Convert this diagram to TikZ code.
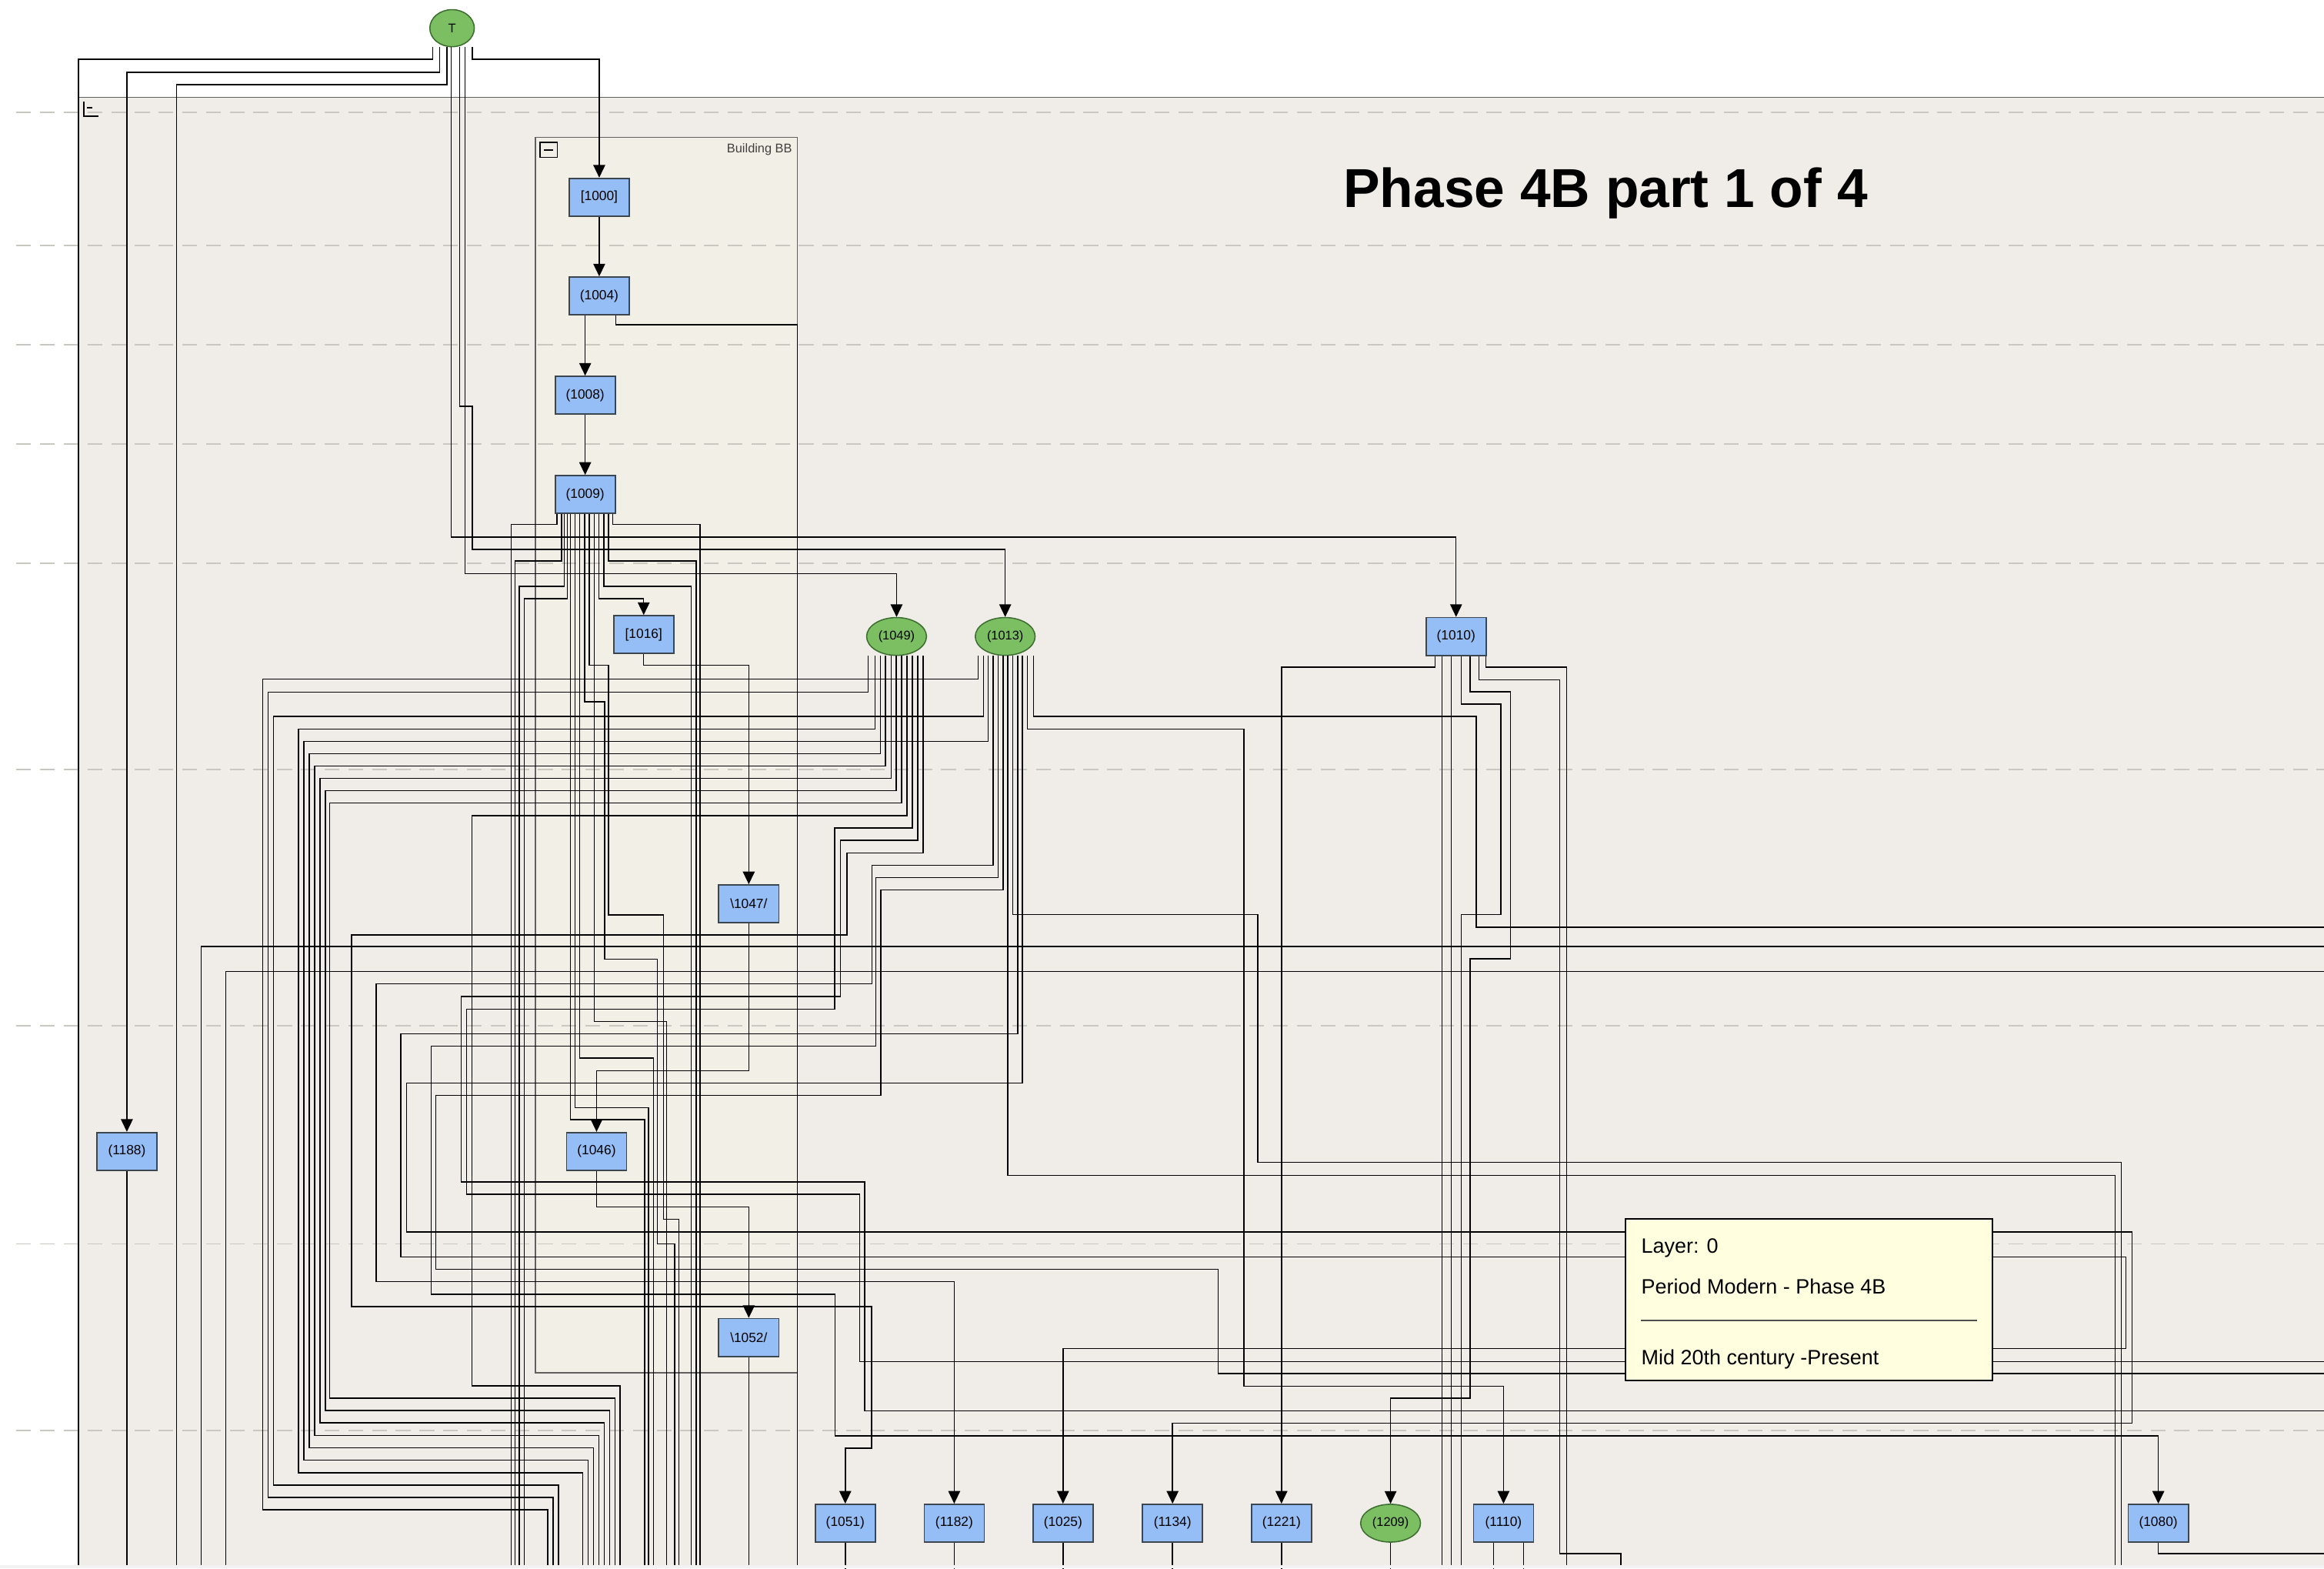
\documentclass[tikz,border=0pt]{standalone}
\usepackage{fontspec}
\setmainfont{Liberation Sans}
\usetikzlibrary{shapes.geometric,arrows.meta}
\definecolor{bgbeige}{HTML}{F0ECE7}
\definecolor{bldg}{HTML}{F2F0E6}
\definecolor{boxblue}{HTML}{95BEF6}
\definecolor{boxborder}{HTML}{3C4650}
\definecolor{nodegreen}{HTML}{7CBF63}
\definecolor{greenborder}{HTML}{3C6E30}
\definecolor{dashcol}{HTML}{C8C8C0}
\definecolor{layerfill}{HTML}{FFFFE0}
\definecolor{framegray}{HTML}{606060}
\tikzset{
  ubox/.style={draw=boxborder, fill=boxblue, minimum width=40.5pt, minimum height=25.5pt,
    inner sep=0pt, line width=0.9pt, font=\fontsize{9}{9}\selectfont},
  uell/.style={ellipse, draw=greenborder, fill=nodegreen, minimum width=40.4pt, minimum height=25.5pt,
    inner sep=0pt, line width=0.8pt, font=\fontsize{8.5}{8.5}\selectfont},
  wire/.style={line width=0.75pt, black},
  arr/.style={wire, -{Triangle[length=8.5pt,width=8pt]}},
  gridline/.style={dashcol, line width=1pt, dash pattern=on 10pt off 6pt},
  layertext/.style={anchor=base west, inner sep=0pt, font=\fontsize{14}{14}\selectfont}
}
\begin{document}
\begin{tikzpicture}[x=1pt,y=-1pt]
\useasboundingbox (0,0) rectangle (1568,1058);
\fill[white] (0,0) rectangle (1568,1058);
\fill[bgbeige] (53,66) rectangle (1568,1058);
\fill[bldg] (361.1,92.7) rectangle (538,926);
\foreach \yy in {76,165.5,232.5,299.5,380,519,692,839,964.7}
  \draw[gridline] (11,\yy) -- (1568,\yy);
\draw[framegray, line width=0.9pt] (53,65.6) -- (1568,65.6);
\draw[framegray, line width=0.9pt] (361.1,92.7) rectangle (538,926);
% corner icon
\draw[black, line width=0.9pt] (56.5,68.5) -- (56.5,78.5) -- (66.5,78.5);
\draw[black, line width=0.9pt] (58.5,72.5) -- (62.5,72.5);
% building collapse icon and label
\draw[black, line width=0.9pt] (364.5,96) rectangle (376,106.2);
\draw[black, line width=0.9pt] (367.2,101.1) -- (373.3,101.1);
\node[anchor=east, inner sep=0pt, text=black!75, font=\fontsize{8.5}{8.5}\selectfont] (lblBB) at (534.6,101) {Building BB};
% title
\node[anchor=base west, inner sep=0pt, font=\fontsize{37}{37}\selectfont\bfseries] (title) at (906.2,139.8) {Phase 4B part 1 of 4};

% nodes
\node[uell, minimum width=30pt, minimum height=25pt] (nT) at (305,19) {T};
\node[ubox] (n1000) at (404.3,133) {[1000]};
\node[ubox] (n1004) at (404.3,199.6) {(1004)};
\node[ubox] (n1008) at (394.8,266.6) {(1008)};
\node[ubox] (n1009) at (394.8,333.5) {(1009)};
\node[ubox] (n1016) at (434.3,428) {[1016]};
\node[uell] (n1049) at (604.9,429.3) {(1049)};
\node[uell] (n1013) at (678.2,429.3) {(1013)};
\node[ubox] (n1010) at (982.4,429.3) {(1010)};
\node[ubox] (n1047) at (505.2,609.6) {\textbackslash1047/};
\node[ubox] (n1188) at (85.6,776.6) {(1188)};
\node[ubox] (n1046) at (402.5,776.6) {(1046)};
\node[ubox] (n1052) at (505.2,902.1) {\textbackslash1052/};
\node[ubox] (n1051) at (570.3,1027.4) {(1051)};
\node[ubox] (n1182) at (643.8,1027.4) {(1182)};
\node[ubox] (n1025) at (717.2,1027.4) {(1025)};
\node[ubox] (n1134) at (791.1,1027.4) {(1134)};
\node[ubox] (n1221) at (864.6,1027.4) {(1221)};
\node[uell] (n1209) at (938.2,1027.4) {(1209)};
\node[ubox] (n1110) at (1014.4,1027.4) {(1110)};
\node[ubox] (n1080) at (1456.2,1027.4) {(1080)};

% ---- connectors from T
\draw[wire] ([xshift=-13pt]nT.south) |- (53,40) -- (53,1058);
\draw[arr] ([xshift=-8.3pt]nT.south) |- (85.6,48.7) -- (n1188.north);
\draw[wire] ([xshift=-3.5pt]nT.south) |- (119,57) -- (119,1058);
\draw[arr] ([xshift=-0.6pt]nT.south) |- (982.4,362.2) -- (n1010.north);
\draw[arr] ([xshift=5.2pt]nT.south) |- (318.6,274) |- (678.2,370.6) -- (n1013.north);
\draw[arr] ([xshift=8.8pt]nT.south) |- (604.9,387) -- (n1049.north);
\draw[arr] ([xshift=13.6pt]nT.south) |- (404.3,40) -- (n1000.north);

% ---- building chain
\draw[arr] (n1000.south) -- (n1004.north);
\draw[arr] ([xshift=-9.5pt]n1004.south) -- (n1008.north);
\draw[wire] ([xshift=11.2pt]n1004.south) |- (538,219) -- (538,1058);
\draw[arr] (n1008.south) -- (n1009.north);

% ---- from 1009
\draw[wire] ([xshift=-19.1pt]n1009.south) |- (344.8,353.7) -- (344.8,1058);
\draw[wire] ([xshift=-16pt]n1009.south) |- (347.4,378.3) -- (347.4,1058);
\draw[wire] ([xshift=-14pt]n1009.south) |- (350.3,395.5) -- (350.3,1058);
\draw[wire] ([xshift=-12pt]n1009.south) |- (353.6,403.7) -- (353.6,1058);
\draw[wire] ([xshift=-9.8pt]n1009.south) |- (435,755.2) -- (435,1058);
\draw[wire] ([xshift=-6.8pt]n1009.south) |- (437.6,747) -- (437.6,1058);
\draw[wire] ([xshift=-3.8pt]n1009.south) |- (441,713.6) -- (441,1058);
\draw[wire] ([xshift=-0.3pt]n1009.south) |- (408,473.4) |- (443.6,647) |- (455.3,839.1) -- (455.3,1058);
\draw[wire] ([xshift=2.7pt]n1009.south) |- (410.5,448.6) |- (447.6,617.1) |- (458,822.4) -- (458,1058);
\draw[wire] ([xshift=6.2pt]n1009.south) |- (449.6,689) -- (449.6,1058);
\draw[arr] ([xshift=9.2pt]n1009.south) |- (434.3,403.7) -- (n1016.north);
\draw[wire] ([xshift=12.6pt]n1009.south) |- (466.3,395.5) -- (466.3,1058);
\draw[wire] ([xshift=15.7pt]n1009.south) |- (469.8,378.3) -- (469.8,1058);
\draw[wire] ([xshift=18.7pt]n1009.south) |- (472.3,353.7) -- (472.3,1058);

\draw[arr] (n1016.south) |- (505.2,448.6) -- (n1047.north);
\draw[arr] (n1047.south) |- (402.5,722.3) -- (n1046.north);
\draw[arr] (n1046.south) |- (505.2,814.2) -- (n1052.north);
\draw[wire] (n1052.south) -- (505.2,1058);
\draw[wire] (n1188.south) -- (85.6,1058);

% ---- from 1049
\draw[wire] ([xshift=-19.2pt]n1049.south) |- (181,466.8) |- (373.2,1010) -- (373.2,1058);
\draw[wire] ([xshift=-14.6pt]n1049.south) |- (201.3,491.7) |- (393.2,993.3) -- (393.2,1058);
\draw[wire] ([xshift=-10.9pt]n1049.south) |- (208.6,508.3) |- (400.5,976.5) -- (400.5,1058);
\draw[wire] ([xshift=-7.6pt]n1049.south) |- (212.3,516.8) |- (404.1,968.1) -- (404.1,1058);
\draw[wire] ([xshift=-3.6pt]n1049.south) |- (215.9,525.1) |- (407.8,959.7) -- (407.8,1058);
\draw[wire] ([xshift=-0.3pt]n1049.south) |- (219.6,533.4) |- (411.4,951.3) -- (411.4,1058);
\draw[wire] ([xshift=3.3pt]n1049.south) |- (222.5,541.5) |- (415.1,943) -- (415.1,1058);
\draw[wire] ([xshift=7pt]n1049.south) |- (318.4,550.1) |- (418.4,934.8) -- (418.4,1058);
\draw[wire] ([xshift=10.6pt]n1049.south) |- (563.2,558.5) |- (314.7,680.8) |- (580.1,805.6) |- (1568,918.4);
\draw[wire] ([xshift=14.2pt]n1049.south) |- (567,566.8) |- (311.3,672.1) |- (583.4,797.3) |- (1568,951.6);
\draw[arr] ([xshift=17.9pt]n1049.south) |- (571.5,575.2) |- (237.2,630.6) |- (588.1,881.2) |- (570.3,976.7) -- (n1051.north);

% ---- from 1013
\draw[wire] ([xshift=-18.3pt]n1013.south) |- (177.3,458) |- (369.6,1018.4) -- (369.6,1058);
\draw[wire] ([xshift=-14.7pt]n1013.south) |- (184.6,483.2) |- (376.9,1001.7) -- (376.9,1058);
\draw[wire] ([xshift=-11.4pt]n1013.south) |- (205,500) |- (396.9,984.9) -- (396.9,1058);
\draw[arr] ([xshift=-8.1pt]n1013.south) |- (588.3,583.5) |- (253.8,663.5) |- (643.8,864.4) -- (n1182.north);
\draw[arr] ([xshift=-4.8pt]n1013.south) |- (590.9,592) |- (290.8,705.5) |- (563.3,872.9) |- (1456.2,968.5) -- (n1080.north);
\draw[wire] ([xshift=-1.5pt]n1013.south) |- (594.2,600.3) |- (294.1,738.7) |- (822,856.1) |- (1568,926.5);
\draw[wire] ([xshift=1.8pt]n1013.south) |- (1427.2,792.8) -- (1427.2,1058);
\draw[wire] ([xshift=5.2pt]n1013.south) |- (848.7,617) |- (1431.3,784) -- (1431.3,1058);
\draw[arr] ([xshift=8.5pt]n1013.south) |- (270.3,697.2) |- (1434.3,847.8) |- (717.2,909.7) -- (n1025.north);
\draw[arr] ([xshift=11.5pt]n1013.south) |- (274.3,730.4) |- (1438.4,831) |- (791.1,959.9) -- (n1134.north);
\draw[arr] ([xshift=15.1pt]n1013.south) |- (839.3,491.7) |- (1014.4,935) -- (n1110.north);
\draw[wire] ([xshift=19.1pt]n1013.south) |- (996,483.2) |- (1568,625.5);

% ---- lines entering from the right edge
\draw[wire] (1568,638.4) -| (135.8,1058);
\draw[wire] (1568,655.3) -| (152.2,1058);

% ---- from 1010
\draw[arr] ([xshift=-14.2pt]n1010.south) |- (864.6,449.9) -- (n1221.north);
\draw[wire] ([xshift=-9.4pt]n1010.south) -- (973,1058);
\draw[wire] ([xshift=-3.4pt]n1010.south) -- (979,1058);
\draw[wire] ([xshift=3.6pt]n1010.south) |- (1012.6,475) |- (986,617) -- (986,1058);
\draw[arr] ([xshift=9.5pt]n1010.south) |- (1019,466.6) |- (991.9,646.8) |- (938.2,943) -- (n1209.north);
\draw[wire] ([xshift=15.4pt]n1010.south) |- (1052.2,458.5) |- (1093.6,1048) -- (1093.6,1058);
\draw[wire] ([xshift=20.1pt]n1010.south) |- (1057,449.9) -- (1057,1058);

% ---- bottom row exits
\foreach \nn in {n1051,n1182,n1025,n1134,n1221,n1209}
  \draw[wire] (\nn.south) -- ++(0,30);
\draw[wire] ([xshift=-6.6pt]n1110.south) -- ++(0,30);
\draw[wire] ([xshift=13.6pt]n1110.south) -- ++(0,30);
\draw[wire] (n1080.south) |- (1568,1048);

% ---- layer box
\filldraw[fill=layerfill, draw=black, line width=1pt] (1096.5,822.3) rectangle (1344.1,931.3);
\node[layertext] (lay1) at (1107.2,845.1) {Layer: 0};
\node[layertext] (lay2) at (1107.2,872.8) {Period Modern - Phase 4B};
\draw[black!70, line width=0.9pt] (1107.2,890.6) -- (1334,890.6);
\node[layertext] (lay3) at (1107.2,920.4) {Mid 20th century -Present};

% bottom strip
\fill[black!5] (0,1055.6) rectangle (1568,1058);
\end{tikzpicture}
\end{document}
